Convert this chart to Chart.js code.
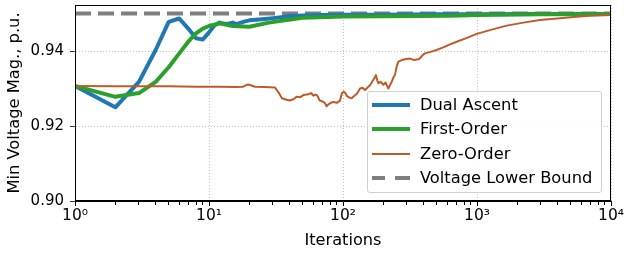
<!DOCTYPE html>
<html>
<head>
<meta charset="utf-8">
<script src="https://cdn.jsdelivr.net/npm/chart.js@4.4.1/dist/chart.umd.min.js"></script>
<style>
    body { margin: 0; background: #fff; }
    #wrap { position: relative; width: 624px; height: 255px; }
    #legend {
        position: absolute; left: 367px; top: 91px; width: 235px; height: 102px;
        border: 1px solid #d0d0d0; border-radius: 3px; background: rgba(255, 255, 255, 0.85);
        font-family: "DejaVu Sans", sans-serif; font-size: 16.3px; color: #000; box-sizing: border-box;
    }
    #legend .row { position: absolute; left: 0; height: 20px; line-height: 20px; white-space: nowrap; }
    #legend .swatch { position: absolute; left: 4px; top: 10px; width: 38px; }
    #legend .label { position: absolute; left: 52px; top: 0; }
</style>
</head>
<body>
<div id="wrap">
    <canvas id="voltage-chart" width="624" height="255"></canvas>
    <div id="legend"></div>
</div>
<script>
    "use strict";

    // Dual Ascent
    var dualIters = [1, 2, 3, 4, 5, 6, 7, 8, 9, 10, 11, 12, 13, 14, 15, 16, 18, 20, 25, 30, 40, 50, 70, 100, 200, 500, 1000, 3000, 10000];
    var dualVals = [0.9307, 0.9250, 0.9318, 0.9403, 0.9478, 0.9487, 0.9460, 0.9434, 0.9431, 0.9450, 0.9469, 0.9476, 0.9473,
        0.9473, 0.9476, 0.9472, 0.9478, 0.9482, 0.9485, 0.9488, 0.9493, 0.9495, 0.9496, 0.9497, 0.9497, 0.9498, 0.9498, 0.9499, 0.9499];

    // First-Order
    var firstIters = [1, 2, 3, 4, 5, 6, 7, 8, 9, 10, 12, 15, 20, 28, 50, 100, 200, 630, 1000, 3000, 10000];
    var firstVals = [0.9307, 0.9278, 0.9288, 0.9318, 0.9357, 0.9394, 0.9425, 0.9447, 0.9460, 0.9467, 0.9474, 0.9467, 0.9465,
        0.9476, 0.9489, 0.9492, 0.9493, 0.9494, 0.9496, 0.9498, 0.9499];

    // Zero-Order
    var zeroIters = [1, 2, 3, 5, 8, 12, 16, 18, 19.5, 20.5, 22, 26, 31, 33, 35, 38, 40, 43, 45, 48, 51, 55, 58, 60, 62, 64,
        67, 70, 73, 75.5, 78, 81, 85, 90, 95, 98, 101, 104, 107, 112, 116, 121, 127, 134, 140, 146, 152, 159, 168, 173,
        176, 180, 184, 190, 200, 208, 218, 225, 231, 238, 244, 252, 259, 275, 290, 316, 340, 370, 395, 409, 450, 500,
        560, 629, 705, 850, 995, 1250, 1667, 2220, 2950, 3940, 5240, 6970, 10000];
    var zeroVals = [0.9307, 0.9306, 0.9306, 0.9306, 0.9305, 0.9305, 0.9304, 0.9305, 0.9311, 0.9309, 0.9305, 0.9304, 0.9303,
        0.9290, 0.9274, 0.9270, 0.9268, 0.9272, 0.9278, 0.9277, 0.9283, 0.9285, 0.9288, 0.9281, 0.9284, 0.9282,
        0.9268, 0.9266, 0.9262, 0.9253, 0.9258, 0.9262, 0.9264, 0.9262, 0.9268, 0.9287, 0.9292, 0.9288, 0.9280, 0.9276,
        0.9274, 0.9280, 0.9286, 0.9300, 0.9302, 0.9296, 0.9302, 0.9309, 0.9323, 0.9330,
        0.9336, 0.9322, 0.9314, 0.9318, 0.9310, 0.9316, 0.9300, 0.9310, 0.9318, 0.9330, 0.9336, 0.9360, 0.9372, 0.9376,
        0.9378, 0.9380, 0.9376, 0.9379, 0.9390, 0.9394, 0.9398, 0.9403,
        0.9410, 0.9418, 0.9425, 0.9436, 0.9446, 0.9456, 0.9468, 0.9476, 0.9483, 0.9487, 0.9491, 0.9494, 0.9496];

    // Voltage Lower Bound
    var boundIters = [1, 10000];
    var boundVals = [0.95, 0.95];

    // Axis ticks
    var xDecades = [1, 10, 100, 1000, 10000];
    var xLabels = ['10⁰', '10¹', '10²', '10³', '10⁴'];
    var yTicks = [0.90, 0.92, 0.94];

    var seriesNames = ['Dual Ascent', 'First-Order', 'Zero-Order', 'Voltage Lower Bound'];
    var seriesColors = ['#1f77b4', '#2ca02c', '#bd5b2b', '#7f7f7f'];

    function toPoints(xs, ys) {
        return xs.map(function (x, i) { return {x: x, y: ys[i]}; });
    }

    // minor ticks 2..9 inside every decade
    var xTickValues = [];
    xDecades.forEach(function (d, i) {
        xTickValues.push(d);
        if (i < xDecades.length - 1) {
            for (var m = 2; m <= 9; m++) xTickValues.push(d * m);
        }
    });
    function isDecade(v) {
        return xDecades.indexOf(v) !== -1;
    }

    Chart.defaults.font.family = '"DejaVu Sans", sans-serif';
    Chart.defaults.font.size = 15;
    Chart.defaults.color = '#000';

    // Frame on all four sides
    var framePlugin = {
        id: 'frame',
        afterDatasetsDraw: function (chart) {
            var a = chart.chartArea, ctx = chart.ctx;
            ctx.save();
            ctx.strokeStyle = '#000';
            ctx.lineWidth = 1;
            ctx.strokeRect(Math.round(a.left) + 0.5, Math.round(a.top) + 0.5,
                Math.round(a.right - a.left) - 1, Math.round(a.bottom - a.top) - 1);
            ctx.restore();
        }
    };

    var ctx = document.getElementById('voltage-chart').getContext('2d');
    var chart = new Chart(ctx, {
        type: 'line',
        data: {
            datasets: [{
                label: seriesNames[0],
                data: toPoints(dualIters, dualVals),
                borderColor: seriesColors[0],
                borderWidth: 4,
                order: 3
            }, {
                label: seriesNames[1],
                data: toPoints(firstIters, firstVals),
                borderColor: seriesColors[1],
                borderWidth: 4,
                order: 2
            }, {
                label: seriesNames[2],
                data: toPoints(zeroIters, zeroVals),
                borderColor: seriesColors[2],
                borderWidth: 2,
                order: 1
            }, {
                label: seriesNames[3],
                data: toPoints(boundIters, boundVals),
                borderColor: seriesColors[3],
                borderWidth: 4,
                borderDash: [16, 7],
                order: 4
            }]
        },
        options: {
            responsive: false,
            animation: false,
            layout: { padding: { top: 5, right: 13, left: 0, bottom: 0 } },
            elements: {
                point: { radius: 0 },
                line: { tension: 0, fill: false, borderJoinStyle: 'round' }
            },
            plugins: {
                legend: { display: false },
                tooltip: { enabled: false }
            },
            scales: {
                x: {
                    type: 'logarithmic',
                    min: 1,
                    max: 10000,
                    afterBuildTicks: function (scale) {
                        scale.ticks = xTickValues.map(function (v) { return {value: v}; });
                    },
                    afterFit: function (scale) {
                        scale.height = 54;
                        scale.paddingLeft = 0;
                        scale.paddingRight = 0;
                    },
                    ticks: {
                        autoSkip: false,
                        maxRotation: 0,
                        padding: 1,
                        font: { size: 15.5 },
                        callback: function (value) {
                            var i = xDecades.indexOf(value);
                            return i === -1 ? '' : xLabels[i];
                        }
                    },
                    grid: {
                        color: function (c) {
                            return c.tick && isDecade(c.tick.value) ? '#b0b0b0' : 'rgba(0,0,0,0)';
                        },
                        lineWidth: 0.8,
                        tickColor: '#000',
                        tickLength: 5,
                        tickWidth: 1,
                        tickBorderDash: function (c) {
                            return c.tick && isDecade(c.tick.value) ? [] : [3, 20];
                        }
                    },
                    border: { color: '#000', width: 1, dash: [1, 2] },
                    title: {
                        display: true,
                        text: 'Iterations',
                        font: { size: 16.2 },
                        padding: { top: 0, bottom: 4 }
                    }
                },
                y: {
                    min: 0.90,
                    max: 0.9523,
                    afterBuildTicks: function (scale) {
                        scale.ticks = yTicks.map(function (v) { return {value: v}; });
                    },
                    afterFit: function (scale) {
                        scale.width = 75;
                        scale.paddingTop = 0;
                        scale.paddingBottom = 0;
                    },
                    ticks: {
                        padding: 6,
                        font: { size: 15 },
                        callback: function (value) { return value.toFixed(2); }
                    },
                    grid: {
                        color: '#b0b0b0',
                        lineWidth: 0.8,
                        tickColor: '#000',
                        tickLength: 5
                    },
                    border: { color: '#000', width: 1, dash: [1, 2] },
                    title: {
                        display: true,
                        text: 'Min Voltage Mag., p.u.',
                        font: { size: 16.3 },
                        padding: { top: 5, bottom: 0 }
                    }
                }
            }
        },
        plugins: [framePlugin]
    });

    // Legend box inside the plot (lower right)
    var legend = document.getElementById('legend');
    var rowTops = [3, 27, 52, 76];
    seriesNames.forEach(function (name, i) {
        var row = document.createElement('div');
        row.className = 'row';
        row.style.top = rowTops[i] + 'px';
        var sw = document.createElement('div');
        sw.className = 'swatch';
        var w = i === 2 ? 2 : 4;
        sw.style.marginTop = (-w / 2) + 'px';
        if (i === 3) {
            sw.style.height = '0';
            sw.style.borderTop = w + 'px solid transparent';
            sw.style.borderImage = 'repeating-linear-gradient(90deg, ' + seriesColors[i] + ' 0 14px, transparent 14px 22px) 4';
        } else {
            sw.style.height = w + 'px';
            sw.style.background = seriesColors[i];
        }
        var lb = document.createElement('span');
        lb.className = 'label';
        lb.textContent = name;
        row.appendChild(sw);
        row.appendChild(lb);
        legend.appendChild(row);
    });
</script>
</body>
</html>
